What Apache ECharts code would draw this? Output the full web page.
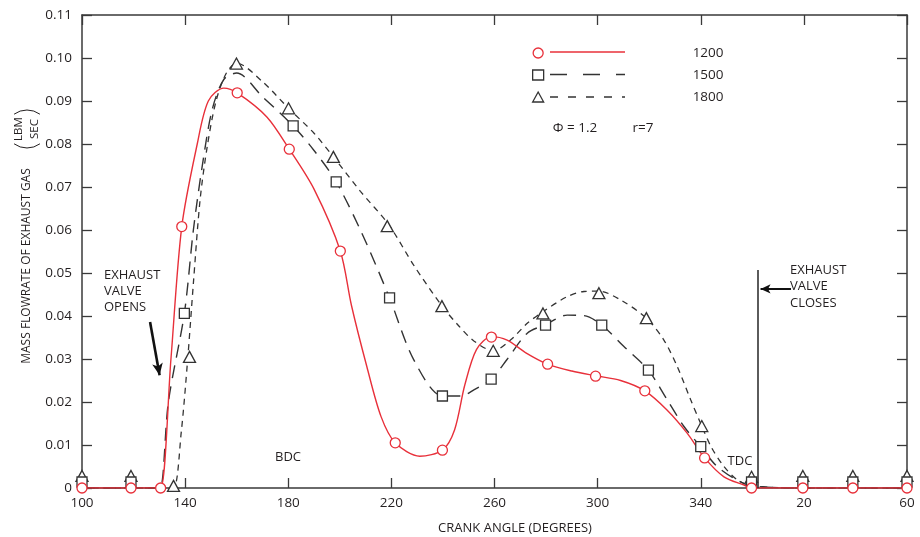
<!DOCTYPE html>
<html>
<head>
<meta charset="utf-8">
<script src="https://cdn.jsdelivr.net/npm/echarts@6/dist/echarts.min.js"></script>
<style>html,body{margin:0;padding:0;background:#fff}#c{width:920px;height:537px}</style>
</head>
<body>
<div id="c"></div>
<script>
// ---- data (crank angle in degrees, 360+ = next revolution) ----
const xTicks = [100, 140, 180, 220, 260, 300, 340, 380, 420];
const yMin = 0, yMax = 0.11, yStep = 0.01;
const seriesNames = ['1200', '1500', '1800'];

const curve1200 = [[100,0],[128,0],[130.5,0],[134.5,0.030],[138.7,0.0608],[144.7,0.080],[149,0.090],[155,0.093],[160.2,0.0919],[171.7,0.0863],[180.4,0.0788],[190,0.0695],[200.2,0.0551],[204.5,0.0425],[210.5,0.0282],[216,0.0166],[221.5,0.0105],[231,0.0074],[239.8,0.0088],[244.5,0.0135],[248.5,0.0240],[253,0.0322],[258.8,0.0352],[264.9,0.0344],[272,0.0315],[280.6,0.0288],[290,0.0272],[299.2,0.0261],[308.9,0.0250],[318.3,0.0226],[327,0.0181],[334.8,0.0127],[341.5,0.0070],[349,0.0026],[356.8,0.0007],[360,0],[380,0],[400,0],[420,0]];
const curve1500 = [[100,0],[128,0],[130.3,0],[133.5,0.020],[139.7,0.0406],[143.2,0.060],[146.8,0.0755],[150.5,0.0880],[155,0.0950],[160,0.0965],[170,0.0910],[181.9,0.0842],[190,0.0785],[198.6,0.0712],[208.6,0.0592],[219.3,0.0442],[228.7,0.0298],[239.8,0.0214],[247,0.0214],[252,0.0228],[258.7,0.0253],[265,0.0300],[272.7,0.0360],[279.8,0.0380],[288.2,0.0402],[294.7,0.0401],[301.6,0.0379],[310,0.0330],[319.7,0.0274],[327,0.0205],[333.5,0.0143],[340,0.0096],[346,0.0052],[353,0.0022],[360,0.0005],[380,0],[400,0],[420,0]];
const curve1800 = [[100,0],[132,0],[135.5,0],[138.5,0.013],[141,0.030],[143.2,0.0476],[145.8,0.067],[148.6,0.0795],[152,0.0900],[156,0.0965],[160,0.0988],[170,0.0945],[180.1,0.0883],[190,0.0825],[197.5,0.0770],[208,0.069],[219,0.0612],[229,0.0515],[239.7,0.0423],[246,0.0378],[252,0.0342],[259.5,0.0319],[266.2,0.0344],[272.7,0.0383],[278.8,0.0410],[288.2,0.0445],[294.7,0.0457],[300.5,0.0458],[309,0.0437],[318.9,0.0395],[325.7,0.0344],[330.9,0.0282],[336.1,0.0205],[340.4,0.0144],[344,0.0096],[349,0.0050],[354.2,0.0019],[360,0.0005],[380,0],[400,0],[420,0]];

const marks1200 = [[100,0],[119,0],[130.5,0],[138.7,0.0608],[160.2,0.0919],[180.4,0.0788],[200.2,0.0551],[221.5,0.0105],[239.8,0.0088],[258.8,0.0351],[280.6,0.0288],[299.2,0.0260],[318.3,0.0226],[341.5,0.0070],[359.7,0],[379.6,0],[399,0],[420,0]];
const marks1500 = [[100,0.0014],[119,0.0014],[139.7,0.0406],[181.9,0.0842],[198.6,0.0712],[219.3,0.0442],[239.8,0.0214],[258.7,0.0253],[279.8,0.0379],[301.6,0.0379],[319.7,0.0274],[340,0.0096],[359.7,0.0014],[379.6,0.0014],[399,0.0014],[420,0.0014]];
const marks1800 = [[100,0.0028],[119,0.0028],[135.5,0.0005],[141.7,0.0305],[159.9,0.0987],[180.1,0.0883],[197.5,0.0770],[218.4,0.0609],[239.6,0.0423],[259.5,0.0319],[278.8,0.0406],[300.5,0.0453],[318.9,0.0395],[340.4,0.0144],[359.7,0.0026],[379.6,0.0028],[399,0.0028],[420,0.0028]];

// annotation positions in data units
const valveCloseLine = [[362.1, 0], [362.1, 0.0507]];
const valveCloseArrow = [[375, 0.0463], [363.2, 0.0463]];
const valveOpenArrow = [[126.4, 0.0386], [130.1, 0.0262]];

const RED = '#e8303a', DARK = '#333333', TXT = '#231f20';
const FONT = '"Open Sans", "Noto Sans", sans-serif';

const chart = echarts.init(document.getElementById('c'), null, {renderer: 'canvas'});

function axisBase(extra) {
  return Object.assign({
    axisLine: {show: true, onZero: false, lineStyle: {color: '#3a3a3a', width: 1.5}},
    axisTick: {show: true, inside: true, length: 10, lineStyle: {color: '#3a3a3a', width: 1.3}},
    splitLine: {show: false}
  }, extra);
}

function markerSeries(name, data, symbol, size, color, z) {
  return {
    name: name, type: 'scatter', data: data, symbol: symbol, symbolSize: size, z: z,
    itemStyle: {color: '#ffffff', borderColor: color, borderWidth: 1.3, opacity: 1},
    emphasis: {disabled: true}, silent: true
  };
}
function curveSeries(data, color, type, width) {
  return {
    type: 'line', data: data, smooth: 0.3, showSymbol: false, symbol: 'none', z: 2,
    lineStyle: {color: color, width: width, type: type}, silent: true, clip: true
  };
}

const option = {
  animation: false,
  backgroundColor: '#ffffff',
  textStyle: {fontFamily: FONT, color: TXT},
  grid: {left: 82, right: 13, top: 15, bottom: 49, containLabel: false},
  xAxis: [
    axisBase({
      type: 'value', position: 'bottom', min: xTicks[0], max: xTicks[xTicks.length - 1],
      axisTick: {show: true, inside: true, length: 10, customValues: xTicks, lineStyle: {color: '#3a3a3a', width: 1.3}},
      axisLabel: {show: true, customValues: xTicks, margin: 8, color: TXT, fontSize: 13.5, fontFamily: FONT,
        formatter: v => String(v > 360 ? v - 360 : v)}
    }),
    axisBase({
      type: 'value', position: 'top', min: xTicks[0], max: xTicks[xTicks.length - 1],
      axisTick: {show: true, inside: true, length: 10, customValues: xTicks, lineStyle: {color: '#3a3a3a', width: 1.3}},
      axisLabel: {show: false}
    })
  ],
  yAxis: [
    axisBase({
      type: 'value', position: 'left', min: yMin, max: yMax, interval: yStep,
      axisLabel: {show: true, margin: 10, color: TXT, fontSize: 13.5, fontFamily: FONT,
        formatter: v => (Math.abs(v) < 1e-9 ? '0' : v.toFixed(2))}
    }),
    axisBase({
      type: 'value', position: 'right', min: yMin, max: yMax, interval: yStep,
      axisLabel: {show: false}
    })
  ],
  legend: {
    show: true, orient: 'vertical', left: 532, top: 44, padding: 0, itemGap: 4,
    itemWidth: 11, itemHeight: 10, selectedMode: false,
    itemStyle: {borderWidth: 1.3},
    data: seriesNames,
    textStyle: {fontSize: 13.5, fontFamily: FONT, color: TXT, padding: [0, 0, 0, 144], lineHeight: 18}
  },
  series: [
    markerSeries(seriesNames[0], marks1200, 'circle', 10, RED, 6),
    markerSeries(seriesNames[1], marks1500, 'rect', 10, DARK, 5),
    markerSeries(seriesNames[2], marks1800, 'triangle', [12, 11], DARK, 4),
    curveSeries(curve1800, DARK, [6, 5], 1.3),
    curveSeries(curve1500, DARK, [13, 8], 1.4),
    Object.assign(curveSeries(curve1200, RED, 'solid', 1.4), {
      markLine: {
        silent: true, symbol: ['none', 'arrow'], symbolSize: [9, 12], animation: false,
        label: {show: false}, emphasis: {disabled: true},
        data: [
          [{coord: valveCloseLine[0], symbol: 'none', lineStyle: {color: DARK, width: 1.6, type: 'solid'}},
           {coord: valveCloseLine[1], symbol: 'none'}],
          [{coord: valveCloseArrow[0], symbol: 'none', lineStyle: {color: '#111', width: 2, type: 'solid'}},
           {coord: valveCloseArrow[1], symbol: 'arrow', symbolSize: [7, 10]}],
          [{coord: valveOpenArrow[0], symbol: 'none', lineStyle: {color: '#111', width: 2.6, type: 'solid'}},
           {coord: valveOpenArrow[1], symbol: 'arrow', symbolSize: [8, 12]}]
        ]
      }
    })
  ],
  graphic: [
    // legend line samples
    {type: 'line', shape: {x1: 550, y1: 52, x2: 625, y2: 52}, style: {stroke: RED, lineWidth: 1.4}, silent: true},
    {type: 'line', shape: {x1: 550, y1: 74.5, x2: 625, y2: 74.5}, style: {stroke: DARK, lineWidth: 1.4, lineDash: [17, 16]}, silent: true},
    {type: 'line', shape: {x1: 550, y1: 97, x2: 625, y2: 97}, style: {stroke: DARK, lineWidth: 1.4, lineDash: [8, 10]}, silent: true},
    {type: 'text', x: 575, y: 128, style: {text: 'Φ = 1.2', fontSize: 13.5, fontFamily: FONT, fill: TXT, textAlign: 'center', textVerticalAlign: 'middle'}, silent: true},
    {type: 'text', x: 643, y: 128, style: {text: 'r=7', fontSize: 13.5, fontFamily: FONT, fill: TXT, textAlign: 'center', textVerticalAlign: 'middle'}, silent: true},
    // y axis title
    {type: 'text', x: 27, y: 266, rotation: Math.PI / 2, style: {text: 'MASS FLOWRATE OF EXHAUST GAS', fontSize: 12, fontFamily: FONT, fill: TXT, textAlign: 'center', textVerticalAlign: 'middle'}, silent: true},
    {type: 'text', x: 19, y: 129, rotation: Math.PI / 2, style: {text: 'LBM', fontSize: 11.5, fontFamily: FONT, fill: TXT, textAlign: 'center', textVerticalAlign: 'middle'}, silent: true},
    {type: 'text', x: 35, y: 129, rotation: Math.PI / 2, style: {text: 'SEC', fontSize: 11.5, fontFamily: FONT, fill: TXT, textAlign: 'center', textVerticalAlign: 'middle'}, silent: true},
    {type: 'arc', shape: {cx: 27, cy: 132, r: 22, startAngle: Math.PI * 1.3, endAngle: Math.PI * 1.7}, style: {stroke: TXT, lineWidth: 1, fill: 'none'}, silent: true},
    {type: 'arc', shape: {cx: 27, cy: 126, r: 22, startAngle: Math.PI * 0.3, endAngle: Math.PI * 0.7}, style: {stroke: TXT, lineWidth: 1, fill: 'none'}, silent: true},
    // x axis title
    {type: 'text', x: 515, y: 528, style: {text: 'CRANK ANGLE (DEGREES)', fontSize: 13, fontFamily: FONT, fill: TXT, textAlign: 'center', textVerticalAlign: 'middle'}, silent: true},
    // annotations
    {type: 'text', x: 104, y: 267, style: {text: 'EXHAUST\nVALVE\nOPENS', fontSize: 13, lineHeight: 16, fontFamily: FONT, fill: TXT, textAlign: 'left', textVerticalAlign: 'top'}, silent: true},
    {type: 'text', x: 790, y: 262, style: {text: 'EXHAUST\nVALVE\nCLOSES', fontSize: 13, lineHeight: 16.5, fontFamily: FONT, fill: TXT, textAlign: 'left', textVerticalAlign: 'top'}, silent: true},
    {type: 'text', x: 288, y: 457, style: {text: 'BDC', fontSize: 13, fontFamily: FONT, fill: TXT, textAlign: 'center', textVerticalAlign: 'middle'}, silent: true},
    {type: 'text', x: 740, y: 461, style: {text: 'TDC', fontSize: 13, fontFamily: FONT, fill: TXT, textAlign: 'center', textVerticalAlign: 'middle'}, silent: true}
  ]
};
chart.setOption(option);
</script>
</body>
</html>
